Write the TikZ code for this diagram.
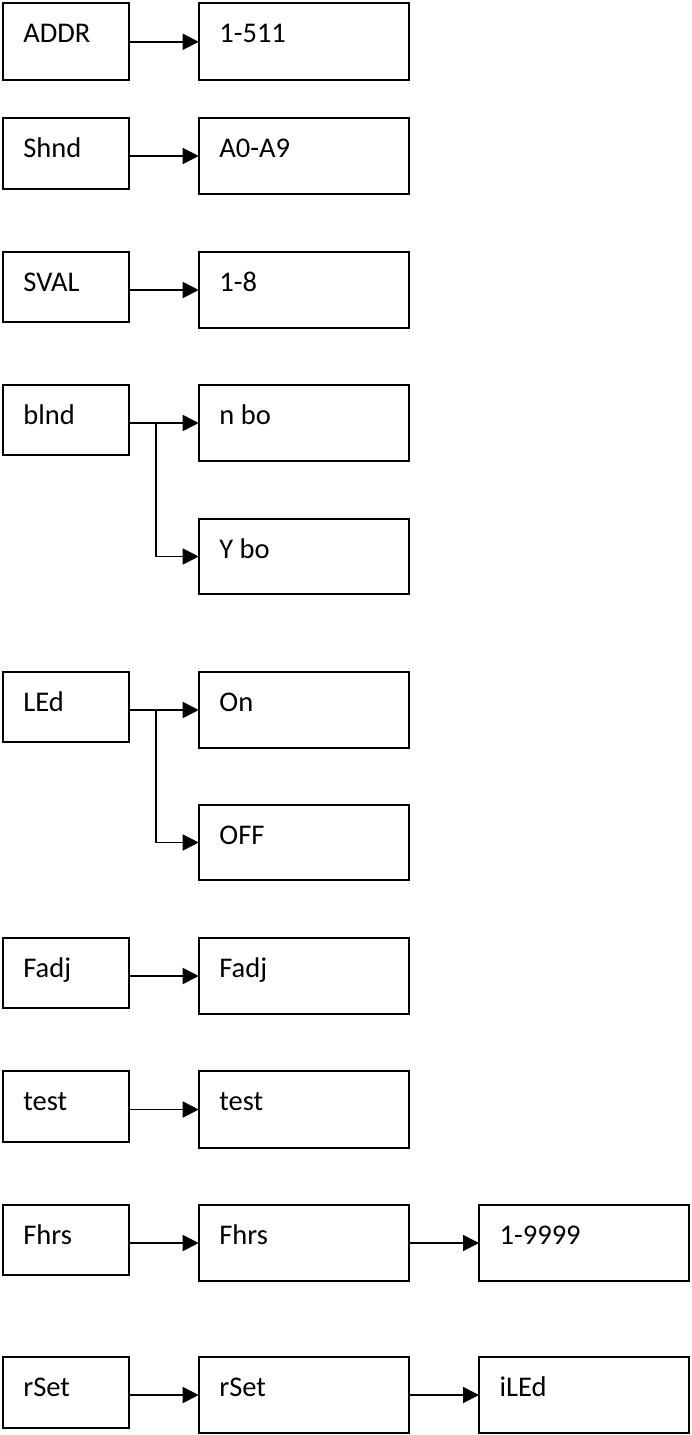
\documentclass[tikz,border=0pt]{standalone}
\usepackage{fontspec}
\setmainfont{Carlito}
\usetikzlibrary{arrows.meta,calc}
\tikzset{
  box/.style={draw, line width=2.2pt, anchor=north west, inner sep=0pt, outer sep=0pt},
  lbox/.style={box, minimum width=126pt, minimum height=70pt},
  mbox/.style={box, minimum width=210.5pt, minimum height=76pt},
  rbox/.style={box, minimum width=210pt, minimum height=76pt},
  txt/.style={anchor=base west, inner sep=0pt, font=\fontsize{28.5}{34}\selectfont},
  arr/.style={line width=1.8pt, -{Triangle[length=16pt,width=16pt]}}
}
\begin{document}
\begin{tikzpicture}[x=1pt,y=-1pt]
\useasboundingbox (0,0) rectangle (691,1435);
% row 1
\node[lbox, minimum height=77pt] (addr) at (2.7,3.3) {};
\node[mbox, minimum height=77pt] (addrv) at (198.7,3.3) {};
% row 2
\node[lbox, minimum height=71pt] (shnd) at (2.7,118) {};
\node[mbox] (shndv) at (198.7,118) {};
% row 3
\node[lbox] (sval) at (2.7,252) {};
\node[mbox] (svalv) at (198.7,252) {};
% row 4
\node[lbox] (blnd) at (2.7,385) {};
\node[mbox] (nbo) at (198.7,385) {};
\node[mbox, minimum height=75pt] (ybo) at (198.7,519) {};
% row 5
\node[lbox] (led) at (2.7,672) {};
\node[mbox] (on) at (198.7,672) {};
\node[mbox, minimum height=75pt] (off) at (198.7,805) {};
% row 6
\node[lbox] (fadj) at (2.7,938) {};
\node[mbox] (fadjv) at (198.7,938) {};
% row 7
\node[lbox, minimum height=71pt] (test) at (2.7,1071) {};
\node[mbox, minimum height=77pt] (testv) at (198.7,1071) {};
% row 8
\node[lbox] (fhrs) at (2.7,1205) {};
\node[mbox] (fhrsv) at (198.7,1205) {};
\node[rbox] (fhrsn) at (479,1205) {};
% row 9
\node[lbox, minimum height=71pt] (rset) at (2.7,1357) {};
\node[mbox] (rsetv) at (198.7,1357) {};
\node[rbox] (iled) at (479,1357) {};

% texts
\foreach \n/\t in {addr/ADDR, addrv/1-511, shnd/Shnd, shndv/A0-A9, sval/SVAL, svalv/1-8,
  blnd/blnd, nbo/n bo, ybo/Y bo, led/LEd, on/On, off/OFF, fadj/Fadj, fadjv/Fadj,
  test/test, testv/test, fhrs/Fhrs, fhrsv/Fhrs, fhrsn/1-9999, rset/rSet, rsetv/rSet, iled/iLEd}
  \node[txt] (t-\n) at ($(\n.north west)+(20.5,39.5)$) {\t};

% connectors
\foreach \a/\b in {addr/addrv, shnd/shndv, sval/svalv, blnd/nbo, led/on, fadj/fadjv,
  test/testv, fhrs/fhrsv, rset/rsetv}
  \draw[arr] (\a.east |- \b.west) -- (\b.west);
\draw[arr] (fhrsv.east) -- (fhrsn.west);
\draw[arr] (rsetv.east) -- (iled.west);

\coordinate (j1) at ($(blnd.east |- nbo.west)+(27,0)$);
\draw[arr] (j1) |- (ybo.west);
\coordinate (j2) at ($(led.east |- on.west)+(27,0)$);
\draw[arr] (j2) |- (off.west);
\end{tikzpicture}
\end{document}
